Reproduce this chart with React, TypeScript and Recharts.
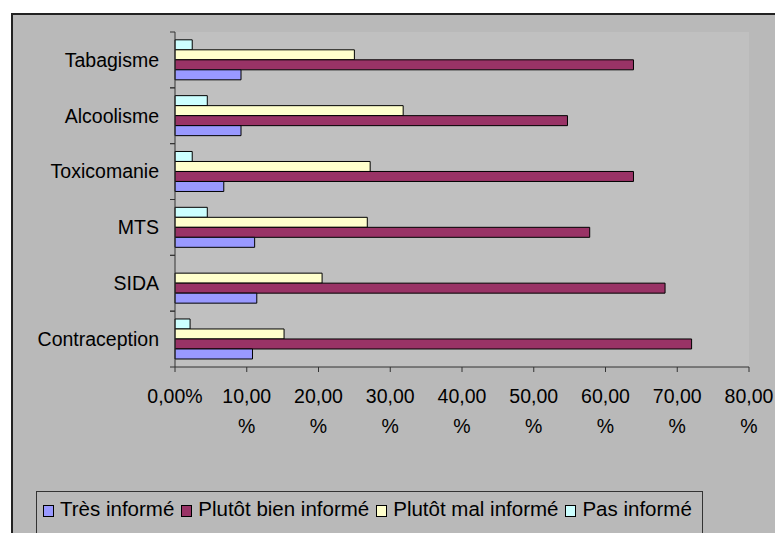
import { BarChart, Bar, XAxis, YAxis, CartesianGrid } from "recharts";

const categories = ["Tabagisme", "Alcoolisme", "Toxicomanie", "MTS", "SIDA", "Contraception"];
const tresInforme = [9.2, 9.2, 6.8, 11.1, 11.4, 10.8];
const plutotBien = [63.9, 54.7, 63.9, 57.8, 68.3, 72.0];
const plutotMal = [25.0, 31.8, 27.2, 26.8, 20.5, 15.2];
const pasInforme = [2.4, 4.5, 2.4, 4.5, 0, 2.1];
const xTicks = [0, 10, 20, 30, 40, 50, 60, 70, 80];

// legend order (Excel draws the bars bottom-up, so the bars are reversed)
const series = [
  { key: "tres", name: "Très informé", color: "#9999FF", values: tresInforme },
  { key: "bien", name: "Plutôt bien informé", color: "#993366", values: plutotBien },
  { key: "mal", name: "Plutôt mal informé", color: "#FFFFCC", values: plutotMal },
  { key: "pas", name: "Pas informé", color: "#CCFFFF", values: pasInforme },
];

const data = categories.map((name, i) => {
  const row: Record<string, string | number> = { name };
  series.forEach(s => (row[s.key] = s.values[i]));
  return row;
});

const FONT = '"Liberation Sans", Arial, sans-serif';
const AXIS = "#333333";

const CategoryTick = (props: any) => {
  const { x, y, payload, height, visibleTicksCount } = props;
  const half = height / visibleTicksCount / 2;
  const axisX = x + 16; // tickSize 5 + tickMargin 11
  return (
    <g>
      <line x1={axisX - 5} x2={axisX} y1={y - half} y2={y - half} stroke={AXIS} />
      <line x1={axisX - 5} x2={axisX} y1={y + half} y2={y + half} stroke={AXIS} />
      <text x={x} y={y} dy="0.35em" textAnchor="end" fill="#000" fontSize={19.5} fontFamily={FONT}>
        {payload.value}
      </text>
    </g>
  );
};

const PercentTick = ({ x, y, payload }: any) => {
  const label = Number(payload.value).toFixed(2).replace(".", ",");
  return (
    <text x={x} y={y} textAnchor="middle" fill="#000" fontSize={19.5} fontFamily={FONT}>
      {payload.value === 0 ? (
        <tspan x={x} dy={29}>{label}%</tspan>
      ) : (
        <>
          <tspan x={x} dy={29}>{label}</tspan>
          <tspan x={x} dy={30}>%</tspan>
        </>
      )}
    </text>
  );
};

export default function App() {
  return (
    <div style={{ position: "absolute", left: 0, top: 0, width: 775, height: 533, background: "#fff", overflow: "hidden", fontFamily: FONT }}>
      {/* chart area */}
      <div style={{ position: "absolute", left: 11, top: 13, width: 800, height: 600, background: "#B9B9B9", borderLeft: "2px solid #222", borderTop: "2px solid #222" }} />

      <div style={{ position: "absolute", left: 0, top: 0 }}>
        <BarChart
          width={775}
          height={533}
          layout="vertical"
          data={data}
          margin={{ top: 32, right: 26, left: 0, bottom: 86 }}
          barCategoryGap="14%"
          barGap={0}
        >
          <CartesianGrid fill="#C0C0C0" horizontal={false} vertical={false} />
          <XAxis
            type="number"
            domain={[0, 80]}
            ticks={xTicks}
            interval={0}
            height={80}
            tickSize={5}
            tickMargin={2}
            stroke={AXIS}
            axisLine={{ stroke: AXIS }}
            tickLine={{ stroke: AXIS }}
            tick={<PercentTick />}
          />
          <XAxis
            xAxisId="top"
            orientation="top"
            type="number"
            domain={[0, 80]}
            height={0}
            tick={false}
            tickLine={false}
            axisLine={{ stroke: "#808080", strokeWidth: 1.5 }}
          />
          <YAxis
            type="category"
            dataKey="name"
            width={175}
            interval={0}
            tickSize={5}
            tickMargin={11}
            tickLine={false}
            axisLine={{ stroke: AXIS }}
            tick={<CategoryTick />}
          />
          <YAxis
            yAxisId="right"
            orientation="right"
            type="category"
            dataKey="name"
            width={0}
            tick={false}
            tickLine={false}
            axisLine={{ stroke: "#808080", strokeWidth: 1.5 }}
          />
          {[...series].reverse().map(s => (
            <Bar
              key={s.key}
              dataKey={s.key}
              name={s.name}
              fill={s.color}
              stroke="#000"
              strokeWidth={1}
              isAnimationActive={false}
            />
          ))}
        </BarChart>
      </div>

      {/* legend */}
      <div
        style={{
          position: "absolute",
          left: 36,
          top: 491,
          width: 667,
          height: 60,
          border: "1px solid #333",
          background: "#B9B9B9",
          boxSizing: "border-box",
          display: "flex",
          alignItems: "flex-start",
          padding: "5px 0 0 6px",
          fontSize: 20.5,
          lineHeight: "24px",
          color: "#000",
          whiteSpace: "nowrap",
        }}
      >
        {series.map(s => (
          <div key={s.key} style={{ display: "flex", alignItems: "center", marginRight: 7 }}>
            <span style={{ width: 9, height: 10, background: s.color, border: "1px solid #000", marginRight: 6, marginTop: 4 }} />
            <span>{s.name}</span>
          </div>
        ))}
      </div>
    </div>
  );
}
